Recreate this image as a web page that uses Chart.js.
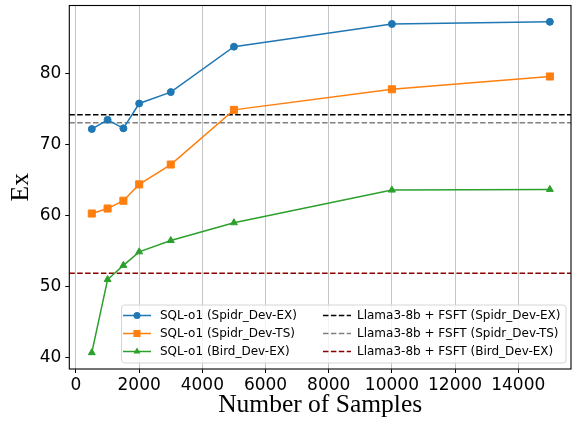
<!DOCTYPE html>
<html>
<head>
<meta charset="utf-8">
<script src="https://cdn.jsdelivr.net/npm/chart.js@4.4.0/dist/chart.umd.min.js"></script>
<style>
    html, body { margin: 0; padding: 0; background: #fff; }
    #chart { display: block; }
</style>
</head>
<body>
<canvas id="chart" width="573" height="421"></canvas>
<script>
// Data
const samples = [500, 1000, 1500, 2000, 3000, 5000, 10000, 15000];
const spiderEx = [72.2, 73.5, 72.3, 75.8, 77.4, 83.8, 87.0, 87.3];
const spiderTs = [60.3, 61.0, 62.1, 64.4, 67.2, 74.9, 77.8, 79.6];
const birdEx = [40.7, 51.0, 53.0, 54.9, 56.5, 59.0, 63.6, 63.7];
const baselineSpiderEx = 74.2;
const baselineSpiderTs = 73.1;
const baselineBirdEx = 51.9;

const xTicks = [0, 2000, 4000, 6000, 8000, 10000, 12000, 14000];
const yTicks = [40, 50, 60, 70, 80];
const xRange = [-212, 15669];
const yRange = [38.4, 89.6];

const seriesLabels = ['SQL-o1 (Spidr_Dev-EX)', 'SQL-o1 (Spidr_Dev-TS)', 'SQL-o1 (Bird_Dev-EX)'];
const baselineLabels = ['Llama3-8b + FSFT (Spidr_Dev-EX)', 'Llama3-8b + FSFT (Spidr_Dev-TS)', 'Llama3-8b + FSFT (Bird_Dev-EX)'];

const toPoints = (ys) => samples.map((x, i) => ({ x, y: ys[i] }));
const flatLine = (y) => xRange.map(x => ({ x, y }));

function series(label, ys, color, style, radius) {
    return {
        label,
        data: toPoints(ys),
        borderColor: color,
        backgroundColor: color,
        borderWidth: 1.5,
        pointStyle: style,
        pointRadius: radius,
        pointHoverRadius: radius,
        pointBorderWidth: 1,
        tension: 0
    };
}

function baseline(label, y, color) {
    return {
        label,
        data: flatLine(y),
        borderColor: color,
        backgroundColor: color,
        borderWidth: 1.5,
        borderDash: [5.5, 2.4],
        pointRadius: 0,
        tension: 0
    };
}

// draws a marker like the ones used on the lines
function drawMarker(ctx, style, x, y, r, color) {
    ctx.fillStyle = color;
    ctx.beginPath();
    if (style === 'circle') {
        ctx.arc(x, y, r, 0, Math.PI * 2);
    } else if (style === 'rect') {
        const s = Math.SQRT1_2 * r;
        ctx.rect(x - s, y - s, 2 * s, 2 * s);
    } else if (style === 'triangle') {
        for (let k = 0; k < 3; k++) {
            const a = k * 2 * Math.PI / 3;
            const px = x + Math.sin(a) * r, py = y - Math.cos(a) * r;
            k === 0 ? ctx.moveTo(px, py) : ctx.lineTo(px, py);
        }
        ctx.closePath();
    }
    ctx.fill();
}

// matplotlib-like legend box, two columns
const legendPlugin = {
    id: 'mplLegend',
    afterDraw(chart) {
        const ctx = chart.ctx;
        const ds = chart.data.datasets;
        const box = { x: 121.5, y: 305, w: 444.5, h: 58, r: 3 };
        ctx.save();
        ctx.beginPath();
        ctx.roundRect(box.x, box.y, box.w, box.h, box.r);
        ctx.fillStyle = 'rgba(255,255,255,0.8)';
        ctx.fill();
        ctx.strokeStyle = '#d6d6d6';
        ctx.lineWidth = 1;
        ctx.stroke();

        ctx.font = '12px "DejaVu Sans"';
        ctx.textBaseline = 'middle';
        ctx.fillStyle = '#000';
        const rowY = [315.5, 333.5, 351.5];
        for (let i = 0; i < 3; i++) {
            const d = ds[i];
            const y = rowY[i];
            ctx.strokeStyle = d.borderColor;
            ctx.lineWidth = 1.5;
            ctx.setLineDash([]);
            ctx.beginPath();
            ctx.moveTo(123, y);
            ctx.lineTo(151, y);
            ctx.stroke();
            drawMarker(ctx, d.pointStyle, 137, y, d.pointRadius, d.borderColor);
            ctx.fillStyle = '#000';
            ctx.fillText(d.label, 160, y);

            const b = ds[i + 3];
            ctx.strokeStyle = b.borderColor;
            ctx.setLineDash(b.borderDash);
            ctx.beginPath();
            ctx.moveTo(323, y);
            ctx.lineTo(351, y);
            ctx.stroke();
            ctx.setLineDash([]);
            ctx.fillStyle = '#000';
            ctx.fillText(b.label, 357, y);
        }
        ctx.restore();
    }
};

// full box of spines round the plot area
const framePlugin = {
    id: 'frame',
    afterDatasetsDraw(chart) {
        const { ctx, chartArea: a } = chart;
        ctx.save();
        ctx.strokeStyle = '#000';
        ctx.lineWidth = 1.1;
        ctx.strokeRect(a.left, a.top, a.right - a.left, a.bottom - a.top);
        ctx.restore();
    }
};

const tickFont = { family: '"DejaVu Sans"', size: 17 };
const titleFont = { family: '"Liberation Serif"', size: 25.5 };

new Chart(document.getElementById('chart'), {
    type: 'line',
    data: {
        datasets: [
            series(seriesLabels[0], spiderEx, '#1f77b4', 'circle', 3.5),
            series(seriesLabels[1], spiderTs, '#ff7f0e', 'rect', 5),
            series(seriesLabels[2], birdEx, '#2ca02c', 'triangle', 4),
            baseline(baselineLabels[0], baselineSpiderEx, '#000000'),
            baseline(baselineLabels[1], baselineSpiderTs, '#808080'),
            baseline(baselineLabels[2], baselineBirdEx, '#8b0000')
        ]
    },
    options: {
        responsive: false,
        animation: false,
        devicePixelRatio: 1,
        layout: { autoPadding: false, padding: { top: 5.5, right: 2, left: 0, bottom: 0 } },
        plugins: {
            legend: { display: false },
            tooltip: { enabled: false }
        },
        scales: {
            x: {
                type: 'linear',
                min: xRange[0],
                max: xRange[1],
                afterBuildTicks: (s) => { s.ticks = xTicks.map(v => ({ value: v })); },
                afterFit: (s) => { s.height = 52; s.paddingLeft = 0; s.paddingRight = 0; },
                grid: {
                    color: 'rgba(176,176,176,0.75)',
                    lineWidth: 1,
                    drawTicks: true,
                    tickLength: 4,
                    tickColor: '#000'
                },
                border: { display: false },
                ticks: {
                    color: '#000',
                    font: tickFont,
                    padding: 2,
                    maxRotation: 0,
                    callback: (v) => String(v)
                },
                title: {
                    display: true,
                    text: 'Number of Samples',
                    color: '#000',
                    font: titleFont,
                    padding: { top: 0, bottom: 0 }
                }
            },
            y: {
                min: yRange[0],
                max: yRange[1],
                afterBuildTicks: (s) => { s.ticks = yTicks.map(v => ({ value: v })); },
                afterFit: (s) => { s.width = 69.3; s.paddingTop = 0; s.paddingBottom = 0; },
                grid: {
                    drawOnChartArea: false,
                    drawTicks: true,
                    tickLength: 4,
                    tickColor: '#000'
                },
                border: { display: false },
                ticks: {
                    color: '#000',
                    font: tickFont,
                    padding: 4,
                    callback: (v) => String(v)
                },
                title: {
                    display: true,
                    text: 'Ex',
                    color: '#000',
                    font: titleFont,
                    padding: { top: 5.5, bottom: 0 }
                }
            }
        }
    },
    plugins: [framePlugin, legendPlugin]
});
</script>
</body>
</html>
